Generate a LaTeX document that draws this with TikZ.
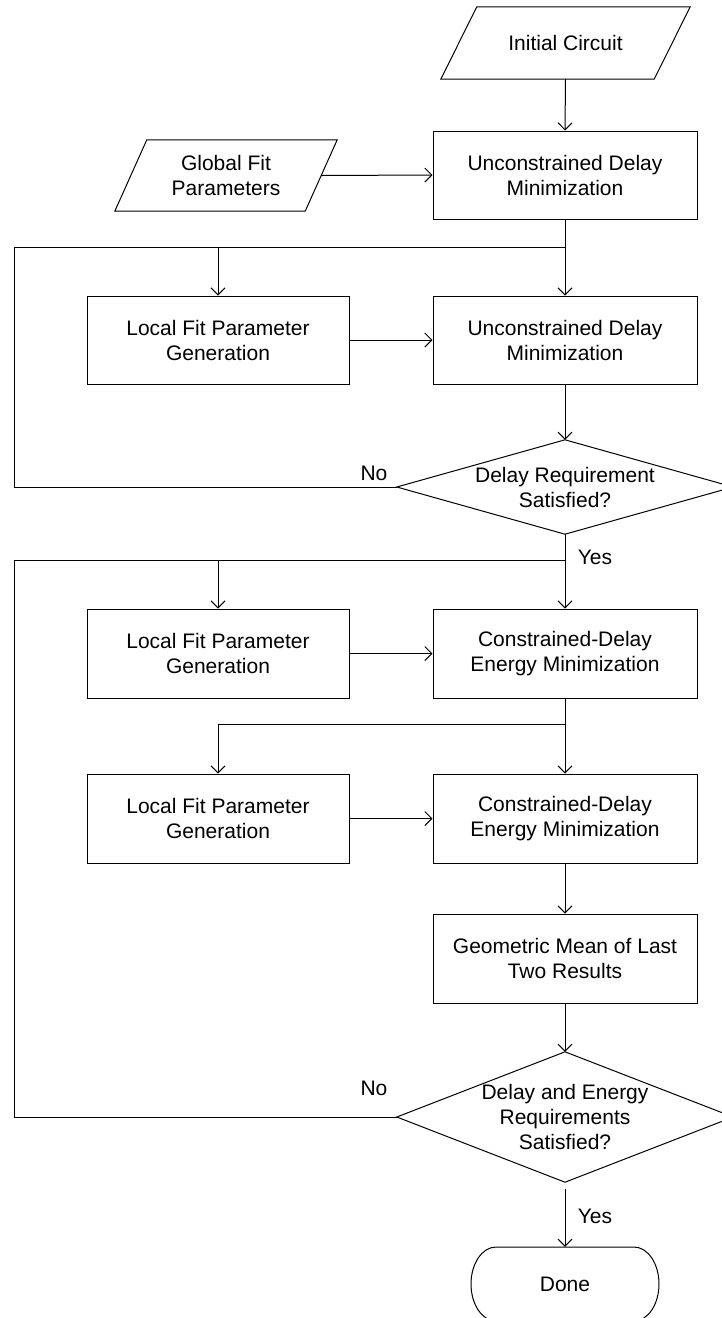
\documentclass[tikz,border=0pt]{standalone}
\usepackage{fontspec}
\setmainfont{Liberation Sans}
\usetikzlibrary{arrows.meta}
\tikzset{
  box/.style={draw, line width=1pt, minimum width=264pt, minimum height=88pt, inner sep=0pt, align=center},
  plain/.style={minimum width=#1, inner sep=0pt, align=center},
  lbl/.style={inner sep=0pt},
  ln/.style={line width=1pt},
  arr/.style={line width=1pt, -{Straight Barb[length=7pt,width=14pt]}}
}
\begin{document}
\begin{tikzpicture}[x=1pt,y=-1pt,font=\fontsize{21}{25}\selectfont]
\clip (0,0) rectangle (722,1318);
\fill[white] (0,0) rectangle (722,1318);

% nodes
\node[plain=213pt, minimum height=72pt] (ic) at (565.5,43) {Initial Circuit};
\draw[ln] ([xshift=18pt]ic.north west) -- ([xshift=18pt]ic.north east) -- ([xshift=-18pt]ic.south east) -- ([xshift=-18pt]ic.south west) -- cycle;

\node[plain=190pt, minimum height=71pt] (gf) at (226,175.5) {Global Fit\\Parameters};
\draw[ln] ([xshift=16pt]gf.north west) -- ([xshift=16pt]gf.north east) -- ([xshift=-16pt]gf.south east) -- ([xshift=-16pt]gf.south west) -- cycle;

\node[box] (udm1) at (565,175) {Unconstrained Delay\\Minimization};
\node[box, minimum width=262pt] (lf1) at (218,340) {Local Fit Parameter\\Generation};
\node[box] (udm2) at (565,340) {Unconstrained Delay\\Minimization};

\node[plain=336pt, minimum height=94pt] (d1) at (565,487) {Delay Requirement\\Satisfied?};
\draw[ln] (d1.north) -- (d1.east) -- (d1.south) -- (d1.west) -- cycle;

\node[box, minimum width=262pt, minimum height=89pt] (lf2) at (218,653.5) {Local Fit Parameter\\Generation};
\node[box, minimum height=89pt] (cde1) at (565,653.5) {Constrained-Delay\\Energy Minimization};
\node[box, minimum width=262pt, minimum height=89pt] (lf3) at (218,818.5) {Local Fit Parameter\\Generation};
\node[box, minimum height=89pt] (cde2) at (565,818.5) {Constrained-Delay\\Energy Minimization};
\node[box, minimum height=89pt] (gm) at (565,958.5) {Geometric Mean of Last\\Two Results};

\node[plain=336pt, minimum height=130pt] (d2) at (565,1117) {Delay and Energy\\Requirements\\Satisfied?};
\draw[ln] (d2.north) -- (d2.east) -- (d2.south) -- (d2.west) -- cycle;

\node[plain=188pt, minimum height=74pt] (done) at (565,1284) {Done};
\draw[ln] (496,1247) -- (634,1247) .. controls (647.8,1247) and (659,1263.6) .. (659,1284)
  .. controls (659,1304.4) and (647.8,1321) .. (634,1321) -- (496,1321)
  .. controls (482.2,1321) and (471,1304.4) .. (471,1284)
  .. controls (471,1263.6) and (482.2,1247) .. (496,1247) -- cycle;

% labels
\node[lbl] (no1) at (374,473) {No};
\node[lbl] (yes1) at (595,557) {Yes};
\node[lbl] (no2) at (374,1088) {No};
\node[lbl] (yes2) at (595,1216) {Yes};

% junctions
\coordinate (j1) at (565,247);
\coordinate (l1) at (14,247);
\coordinate (j2) at (565,560);
\coordinate (l2) at (14,560);
\coordinate (j3) at (565,724);

% connectors
\draw[arr] (ic.south) -- (udm1.north);
\draw[arr] (gf.east) -- (udm1.west);
\draw[arr] (udm1.south) -- (udm2.north);
\draw[ln] (d1.west) -| (l1) -- (j1);
\draw[arr] (j1) -| (lf1.north);
\draw[arr] (lf1.east) -- (udm2.west);
\draw[arr] (udm2.south) -- (d1.north);

\draw[arr] (d1.south) -- (cde1.north);
\draw[ln] (d2.west) -| (l2) -- (j2);
\draw[arr] (j2) -| (lf2.north);
\draw[arr] (lf2.east) -- (cde1.west);

\draw[arr] (cde1.south) -- (cde2.north);
\draw[arr] (j3) -| (lf3.north);
\draw[arr] (lf3.east) -- (cde2.west);
\draw[arr] (cde2.south) -- (gm.north);
\draw[arr] (gm.south) -- (d2.north);
\draw[arr, shorten <=7pt] (d2.south) -- (done.north);
\end{tikzpicture}
\end{document}
